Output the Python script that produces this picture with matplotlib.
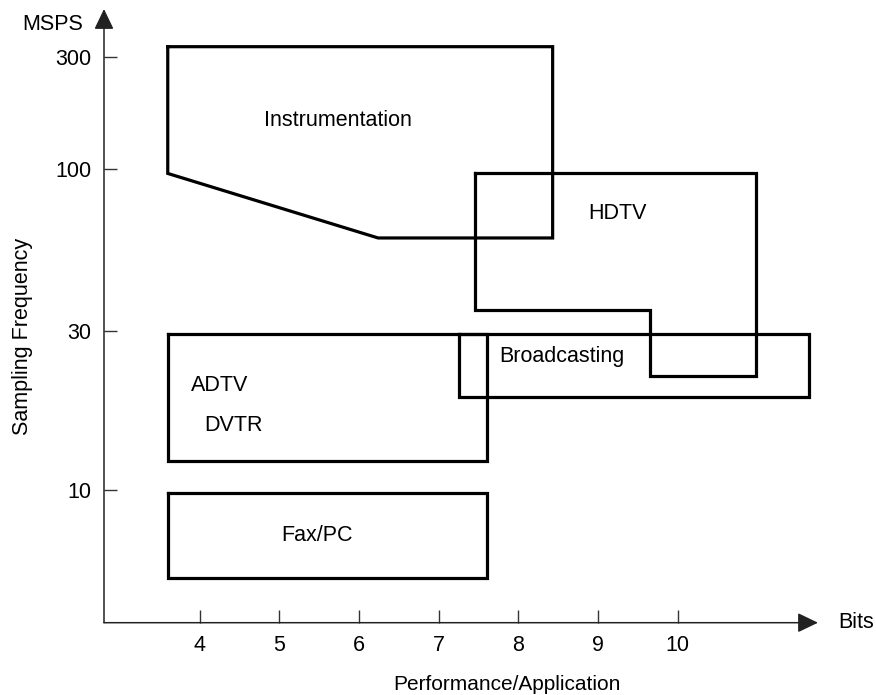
import numpy as np
import matplotlib
matplotlib.use("Agg")
from matplotlib import pyplot as plt

plt.rcParams['font.family'] = ['Liberation Sans', 'DejaVu Sans']

# application regions: outline vertices as (bits, MSPS)
instr_bits = [3.6, 8.43, 8.43, 6.24, 3.6, 3.6]
instr_msps = [332, 332, 60, 60, 97, 332]

hdtv_bits = [7.45, 10.98, 10.98, 9.65, 9.65, 7.45, 7.45]
hdtv_msps = [97, 97, 22, 22, 35, 35, 97]

bcast_bits = [7.25, 11.65, 11.65, 7.25, 7.25]
bcast_msps = [29.4, 29.4, 19.0, 19.0, 29.4]

adtv_bits = [3.6, 7.6, 7.6, 3.6, 3.6]
adtv_msps = [29.4, 29.4, 12.2, 12.2, 29.4]

fax_bits = [3.6, 7.6, 7.6, 3.6, 3.6]
fax_msps = [9.8, 9.8, 5.45, 5.45, 9.8]

labels = ['Instrumentation', 'HDTV', 'Broadcasting', 'ADTV', 'DVTR', 'Fax/PC']
label_bits = [5.73, 9.24, 8.55, 4.25, 4.42, 5.47]
label_msps = [162, 72, 25.1, 20.6, 15.6, 7.3]

x_ticks = [4, 5, 6, 7, 8, 9, 10]
y_ticks = [10, 30, 100, 300]

# schematic frequency axis: log spacing stretched differently per step
tick_log = np.log10(y_ticks)
tick_pos = np.array([0.0, 1.59, 3.207, 4.33])


def _pw(x, xp, fp):
    x = np.asarray(x, float)
    y = np.interp(x, xp, fp)
    lo_slope = (fp[1] - fp[0]) / (xp[1] - xp[0])
    hi_slope = (fp[-1] - fp[-2]) / (xp[-1] - xp[-2])
    y = np.where(x < xp[0], fp[0] + (x - xp[0]) * lo_slope, y)
    y = np.where(x > xp[-1], fp[-1] + (x - xp[-1]) * hi_slope, y)
    return y


def fwd(v):
    v = np.clip(np.asarray(v, float), 1e-6, None)
    return _pw(np.log10(v), tick_log, tick_pos)


def inv(p):
    return 10 ** _pw(p, tick_pos, tick_log)


FS = 15.5
W, H = 876, 695
fig = plt.figure(figsize=(W / 100, H / 100), dpi=100)
ax = fig.add_axes([104 / W, (H - 622.7) / H, (818 - 104) / W, (622.7 - 9) / H])
ax.set_yscale('function', functions=(fwd, inv))
ax.set_xlim(2.80, 11.76)
ax.set_ylim(4.0, 480)

for bx, my in [(instr_bits, instr_msps), (hdtv_bits, hdtv_msps),
               (bcast_bits, bcast_msps), (adtv_bits, adtv_msps),
               (fax_bits, fax_msps)]:
    ax.plot(bx, my, color='black', lw=2.3, solid_joinstyle='miter',
            clip_on=False)

for t, bx, my in zip(labels, label_bits, label_msps):
    ax.text(bx, my, t, ha='center', va='center', fontsize=FS)

for s in ax.spines.values():
    s.set_visible(False)

arrow = dict(arrowstyle='-|>,head_length=1.25,head_width=0.6', lw=1.1,
             color='#222222', shrinkA=0, shrinkB=0)
ax.annotate('', xy=(0, 1), xytext=(0, 0), xycoords='axes fraction',
            arrowprops=arrow, annotation_clip=False)
ax.annotate('', xy=(1, 0), xytext=(0, 0), xycoords='axes fraction',
            arrowprops=arrow, annotation_clip=False)

ax.set_xticks(x_ticks)
ax.set_yticks(y_ticks)
ax.set_yticklabels([str(v) for v in y_ticks])
ax.minorticks_off()
ax.tick_params(direction='in', length=9.2, width=1, color='#333333',
               labelsize=FS, pad=9)

ax.text(1.028, 0, 'Bits', transform=ax.transAxes, ha='left', va='center',
        fontsize=FS)
ax.text(-0.072, 0.975, 'MSPS', transform=ax.transAxes, ha='center',
        va='center', fontsize=FS)
fig.text(23 / W, 1 - 336 / H, 'Sampling Frequency', rotation=90,
         ha='center', va='center', fontsize=FS)
fig.text(507 / W, 1 - 685 / H, 'Performance/Application', ha='center',
         va='center', fontsize=15)

fig.savefig('out.png', dpi=100)
